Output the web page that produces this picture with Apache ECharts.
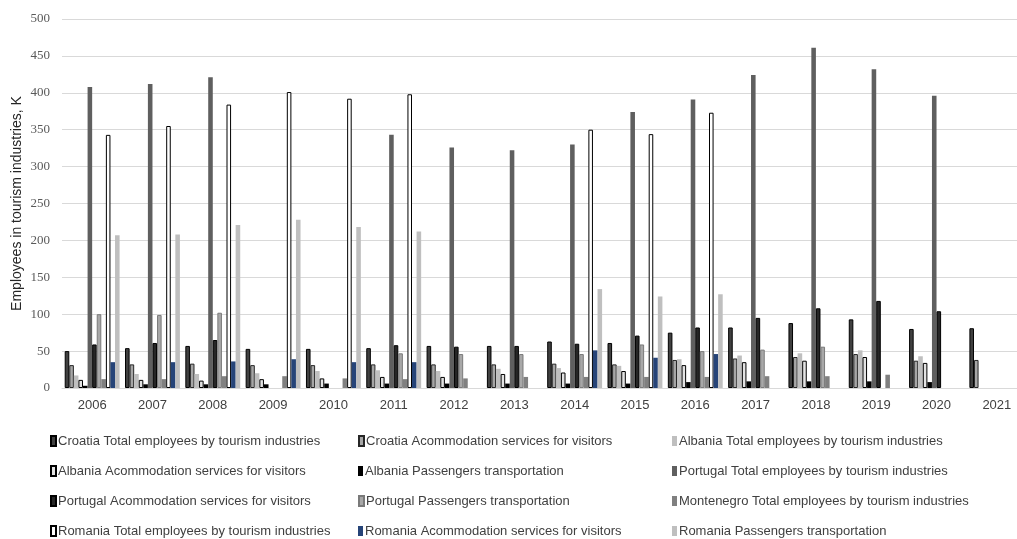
<!DOCTYPE html>
<html>
<head>
<meta charset="utf-8">
<script src="https://cdn.jsdelivr.net/npm/echarts@6/dist/echarts.min.js"></script>
<style>
  html, body { margin: 0; padding: 0; background: #fff; }
  #chart { width: 1017px; height: 539px; }
</style>
</head>
<body>
<div id="chart"></div>
<script>
const years = ['2006', '2007', '2008', '2009', '2010', '2011', '2012', '2013',
  '2014', '2015', '2016', '2017', '2018', '2019', '2020', '2021'];

const croatiaTotal = [50, 54, 57, 53, 53, 54, 57, 57, 63, 61, 75, 82, 88, 93, 80, 81];
const croatiaAcc = [31, 32, 33, 31, 31, 32, 32, 32, 33, 32, 38, 40, 42, 46, 37, 38];
const albaniaTotal = [17, 19, 19, 20, 23, 24, 23, 26, 27, 30, 39, 44, 47, 51, 43, null];
const albaniaAcc = [11, 11, 10, 12, 13, 15, 15, 19, 21, 23, 31, 35, 37, 42, 34, null];
const albaniaPass = [3, 5, 5, 5, 6, 6, 6, 6, 6, 6, 8, 9, 9, 9, 8, null];
const portugalTotal = [408, 412, 421, null, null, 343, 326, 322, 330, 374, 391, 424, 461, 432, 396, null];
const portugalAcc = [59, 61, 65, null, null, 58, 56, 57, 60, 71, 82, 95, 108, 118, 104, null];
const portugalPass = [100, 99, 102, null, null, 47, 46, 46, 46, 59, 50, 52, 56, null, null, null];
const montenegroTotal = [12, 12, 16, 16, 13, 12, 13, 15, 15, 15, 15, 16, 16, 18, null, null];
const romaniaTotal = [343, 355, 384, 401, 392, 398, null, null, 350, 344, 373, null, null, null, null, null];
const romaniaAcc = [35, 35, 36, 39, 35, 35, null, null, 51, 41, 46, null, null, null, null, null];
const romaniaPass = [207, 208, 221, 228, 218, 212, null, null, 134, 124, 127, null, null, null, null, null];

const seriesDefs = [
  { name: 'Croatia Total employees by tourism industries', data: croatiaTotal, color: '#404040', border: '#000000', bw: 1 },
  { name: 'Croatia Acommodation services for visitors', data: croatiaAcc, color: '#a6a6a6', border: '#262626', bw: 1 },
  { name: 'Albania Total employees by tourism industries', data: albaniaTotal, color: '#bfbfbf', border: null, bw: 0 },
  { name: 'Albania Acommodation services for visitors', data: albaniaAcc, color: '#e3e3e3', border: '#000000', bw: 1 },
  { name: 'Albania Passengers transportation', data: albaniaPass, color: '#000000', border: null, bw: 0 },
  { name: 'Portugal Total employees by tourism industries', data: portugalTotal, color: '#5f5f5f', border: null, bw: 0 },
  { name: 'Portugal Acommodation services for visitors', data: portugalAcc, color: '#262626', border: '#000000', bw: 1 },
  { name: 'Portugal Passengers transportation', data: portugalPass, color: '#a8a8a8', border: '#7a7a7a', bw: 1 },
  { name: 'Montenegro Total employees by tourism industries', data: montenegroTotal, color: '#808080', border: null, bw: 0 },
  { name: 'Romania Total employees by tourism industries', data: romaniaTotal, color: '#ffffff', border: '#000000', bw: 1 },
  { name: 'Romania Acommodation services for visitors', data: romaniaAcc, color: '#264478', border: null, bw: 0 },
  { name: 'Romania Passengers transportation', data: romaniaPass, color: '#bfbfbf', border: null, bw: 0 }
];

// legend grid: 3 columns x 4 rows, series index filled row by row
const legendColX = [50, 358, 672];
const legendRowY = [441, 471, 501, 531];

const sans = '"Liberation Sans", Arial, sans-serif';

const chart = echarts.init(document.getElementById('chart'), null, { renderer: 'canvas' });

const option = {
  backgroundColor: '#ffffff',
  animation: false,
  grid: { left: 62, top: 19, width: 965, height: 369, outerBoundsMode: 'none', containLabel: false },
  legend: seriesDefs.map((s, i) => ({
    orient: 'horizontal',
    left: legendColX[i % 3],
    top: legendRowY[Math.floor(i / 3)] - 8,
    padding: 0,
    icon: 'rect',
    itemWidth: 5,
    itemHeight: 10,
    data: [s.name],
    textStyle: { fontFamily: sans, fontSize: 13, lineHeight: 16, color: '#404040', padding: [0, 0, 0, -3] }
  })),
  xAxis: {
    type: 'category',
    data: years,
    axisLine: { lineStyle: { color: '#d9d9d9', width: 1 } },
    axisTick: { show: false },
    axisLabel: { fontFamily: sans, fontSize: 13, color: '#404040', margin: 11 }
  },
  yAxis: {
    type: 'value',
    min: 0,
    max: 500,
    interval: 50,
    name: 'Employees in tourism industries, K',
    nameLocation: 'middle',
    nameGap: 38,
    nameMoveOverlap: false,
    nameTextStyle: { fontFamily: sans, fontSize: 14, color: '#262626' },
    axisLine: { show: false },
    axisTick: { show: false },
    axisLabel: { fontFamily: '"Liberation Serif", "Times New Roman", serif', fontSize: 13, color: '#595959', margin: 12 },
    splitLine: { lineStyle: { color: '#d9d9d9', width: 1 } }
  },
  series: seriesDefs.map(s => ({
    name: s.name,
    type: 'bar',
    data: s.data,
    barGap: '0%',
    barCategoryGap: '9%',
    itemStyle: {
      color: s.color,
      borderColor: s.border || s.color,
      borderWidth: s.bw
    }
  }))
};

chart.setOption(option);
</script>
</body>
</html>
